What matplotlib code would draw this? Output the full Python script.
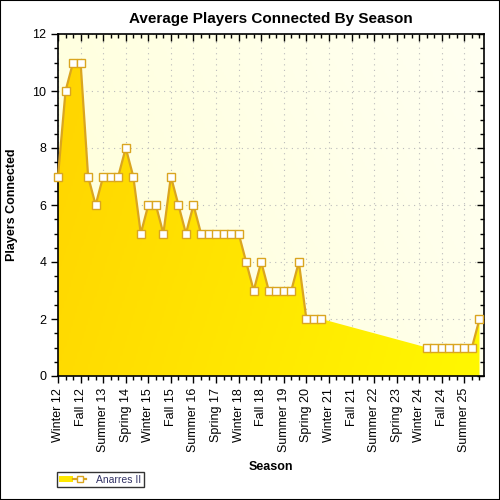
import numpy as np
import matplotlib
matplotlib.use("Agg")
import matplotlib.pyplot as plt
from matplotlib.patches import Patch
from matplotlib.lines import Line2D
from matplotlib.legend_handler import HandlerTuple
from matplotlib.colors import LinearSegmentedColormap

plt.rcParams['font.family'] = ['Liberation Sans', 'DejaVu Sans']

seasons = ['Winter', 'Spring', 'Summer', 'Fall']
years = list(range(12, 27))
categories = [f"{s} {y}" for y in years for s in seasons][:57]

# average players per season, None = no data
players = [7, 10, 11, 11, 7, 6, 7, 7, 7, 8,
           7, 5, 6, 6, 5, 7, 6, 5, 6, 5,
           5, 5, 5, 5, 5, 4, 3, 4, 3, 3,
           3, 3, 4, 2, 2, 2, None, None, None, None,
           None, None, None, None, None, None, None, None, None, 1,
           1, 1, 1, 1, 1, 1, 2]
series_name = "Anarres II"

x = np.arange(len(categories))
y = np.array([np.nan if v is None else v for v in players], dtype=float)
ok = ~np.isnan(y)

fig = plt.figure(figsize=(5, 5), dpi=100)
fig.patches.append(plt.Rectangle((0, 0), 1, 1, transform=fig.transFigure,
                                 fill=False, edgecolor='black', linewidth=1.5))
ax = fig.add_axes([0.116, 0.248, 0.852, 0.684])

xmax = 56.6
ax.set_xlim(0, xmax)
ax.set_ylim(0, 12)

# plot background gradient
bg = LinearSegmentedColormap.from_list('bg', ['#FFFFD8', '#FFFFF2'])
gx, gy = np.meshgrid(np.linspace(0, 1, 200), np.linspace(0, 1, 200))
ax.imshow(gx * 0.7 + (1 - gy) * 0.3, cmap=bg, extent=[0, xmax, 0, 12],
          aspect='auto', origin='upper', zorder=0)

ax.grid(True, which='major', color='#BBBBBB', linestyle=(0, (1, 4)), linewidth=0.8)
ax.set_axisbelow(True)

# area fill with gradient
poly = ax.fill_between(x[ok], y[ok], 0, color='none', zorder=2)
fc = LinearSegmentedColormap.from_list('fc', ['#FFD400', '#FFE600', '#FFF800'])
img = ax.imshow(gx * 0.8 + gy * 0.2, cmap=fc, extent=[0, xmax, 0, 12],
                aspect='auto', origin='upper', zorder=2)
img.set_clip_path(poly.get_paths()[0], transform=ax.transData)

ax.plot(x, y, color='#DAA520', linewidth=1.6, zorder=3,
        marker='s', markersize=5.5, markerfacecolor='white',
        markeredgecolor='#DAA520', markeredgewidth=1, clip_on=False)

ax.set_xticks(x[::3])
ax.set_xticklabels(categories[::3], rotation=90, fontsize=9)
ax.set_xticks(x, minor=True)
ax.set_yticks(np.arange(0, 13, 2))
ax.set_yticks(np.arange(0, 12.5, 0.5), minor=True)
ax.tick_params(axis='both', which='major', length=5, labelsize=9, width=1)
ax.tick_params(axis='both', which='minor', length=3, width=1)
ax.tick_params(axis='x', which='both', top=True, direction='out')
ax.tick_params(axis='y', which='both', right=True, direction='out')
# top and right ticks point into the plot
for t in ax.xaxis.get_major_ticks() + ax.xaxis.get_minor_ticks():
    t.tick2line.set_marker(3)
for t in ax.yaxis.get_major_ticks() + ax.yaxis.get_minor_ticks():
    t.tick2line.set_marker(0)
for s in ax.spines.values():
    s.set_linewidth(1.2)

ax.set_title("Average Players Connected By Season", fontsize=11,
             fontweight='bold', pad=8)
ax.set_xlabel("Season", fontsize=9, fontweight='bold', labelpad=6)
ax.set_ylabel("Players Connected", fontsize=9, fontweight='bold', labelpad=10)

h_patch = Patch(facecolor='#FFE800', edgecolor='none')
h_line = Line2D([], [], color='#DAA520', linewidth=1.6, marker='s', markersize=5,
                markerfacecolor='white', markeredgecolor='#DAA520')
leg = fig.legend([(h_patch, h_line)], [series_name],
                 handler_map={tuple: HandlerTuple(ndivide=None, pad=0)},
                 loc='lower left', bbox_to_anchor=(0.103, 0.015),
                 fontsize=7.5, frameon=True, fancybox=False, handlelength=2.6,
                 handleheight=0.6, borderpad=0.25, labelspacing=0.2,
                 handletextpad=0.9)
leg.get_frame().set_edgecolor('black')
leg.get_frame().set_linewidth(1)
for t in leg.get_texts():
    t.set_color('#333366')

fig.savefig("out.png", dpi=100)
